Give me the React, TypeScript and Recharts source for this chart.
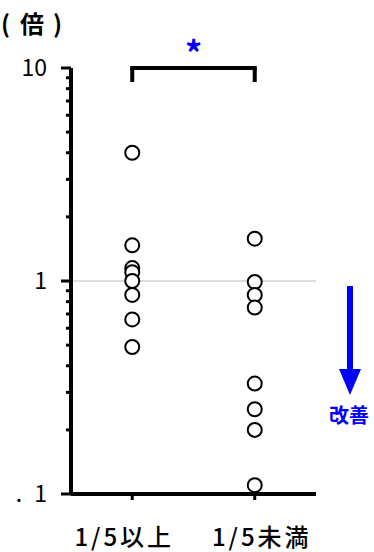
import React from 'react';
import { ScatterChart, Scatter, XAxis, YAxis, ReferenceLine } from 'recharts';

// group labels and the ratio values
const categories = ['1/5以上', '1/5未満'];
const groupA = [4.0, 1.47, 1.15, 1.1, 1.0, 0.86, 0.66, 0.49];
const groupB = [1.58, 0.99, 0.86, 0.75, 0.33, 0.25, 0.2, 0.11];

const yTicks = [0.1, 0.2, 0.3, 0.4, 0.5, 0.6, 0.7, 0.8, 0.9, 1, 2, 3, 4, 5, 6, 7, 8, 9, 10];
const yLabels: Record<string, string> = { '0.1': '.1', '1': '1', '10': '10' };
const xTicks = [1, 2];

const FONT = "'Noto Sans CJK JP', 'Noto Sans', sans-serif";
const BLUE = '#0000ff';

const dataA = groupA.map((v) => ({ x: 1, y: v }));
const dataB = groupB.map((v) => ({ x: 2, y: v }));

const Dot = (props: any) => (
  <circle cx={props.cx} cy={props.cy} r={7} fill="#fff" stroke="#000" strokeWidth={2} />
);

const YTick = (props: any) => {
  const { x, y, payload } = props;
  const label = yLabels[String(payload.value)];
  const len = label ? 10 : 5;
  return (
    <g>
      <line x1={x - len} x2={x} y1={y} y2={y} stroke="#000" strokeWidth={3} />
      {label && (
        <text
          x={x - len - 14}
          y={y}
          dy="0.36em"
          textAnchor="end"
          fontSize={23}
          fontFamily={FONT}
          fill="#000"
        >
          {label === '.1' ? (
            <>
              .<tspan dx={12}>1</tspan>
            </>
          ) : (
            label
          )}
        </text>
      )}
    </g>
  );
};

const labelShift = [-8, 7];

const XTick = (props: any) => {
  const { x, y, payload } = props;
  const i = xTicks.indexOf(payload.value);
  return (
    <text
      x={x + labelShift[i]}
      y={y + 46}
      textAnchor="middle"
      fontSize={24}
      fontFamily={FONT}
      fontWeight={500}
      letterSpacing={3}
      fill="#000"
    >
      {categories[i]}
    </text>
  );
};

export default function App() {
  return (
    <div style={{ position: 'absolute', left: 0, top: 0, width: 374, height: 552, background: '#fff' }}>
      <ScatterChart width={374} height={552} margin={{ top: 68, right: 58, bottom: 0, left: 0 }}>
        <XAxis
          type="number"
          dataKey="x"
          domain={[0.5, 2.5]}
          ticks={xTicks}
          interval={0}
          height={58}
          axisLine={{ stroke: '#000', strokeWidth: 4 }}
          tickLine={{ stroke: '#000', strokeWidth: 3 }}
          tickSize={6}
          tickMargin={0}
          tick={<XTick />}
        />
        <YAxis
          type="number"
          dataKey="y"
          scale="log"
          domain={[0.1, 10]}
          allowDataOverflow
          ticks={yTicks}
          interval={0}
          width={71}
          axisLine={{ stroke: '#000', strokeWidth: 4 }}
          tickLine={false}
          tickSize={0}
          tickMargin={0}
          tick={<YTick />}
        />
        <ReferenceLine y={1} stroke="#bbbbbb" strokeWidth={1} />
        <ReferenceLine
          segment={[{ x: 1, y: 10 }, { x: 2, y: 10 }]}
          stroke="#000"
          strokeWidth={4}
          strokeLinecap="square"
          ifOverflow="visible"
          label={{ value: '*', position: 'top', fill: BLUE, fontSize: 34, fontWeight: 700, offset: 2, fontFamily: FONT }}
        />
        <ReferenceLine segment={[{ x: 1, y: 10 }, { x: 1, y: 8.6 }]} stroke="#000" strokeWidth={4} ifOverflow="visible" />
        <ReferenceLine segment={[{ x: 2, y: 10 }, { x: 2, y: 8.6 }]} stroke="#000" strokeWidth={4} ifOverflow="visible" />
        <Scatter data={dataA} shape={Dot} isAnimationActive={false} />
        <Scatter data={dataB} shape={Dot} isAnimationActive={false} />
      </ScatterChart>
      <svg width={374} height={552} style={{ position: 'absolute', left: 0, top: 0, pointerEvents: 'none' }}>
        <text x={1} y={33} fontSize={24} fontWeight={700} fontFamily={FONT} fill="#000">
          (<tspan dx={10}>倍</tspan>
          <tspan dx={9}>)</tspan>
        </text>
        <rect x={347} y={286} width={6} height={84} fill={BLUE} />
        <polygon points="339,369 361,369 350,395" fill={BLUE} />
        <text x={349} y={423} textAnchor="middle" fontSize={20} fontWeight={700} fontFamily={FONT} fill={BLUE}>
          改善
        </text>
      </svg>
    </div>
  );
}
